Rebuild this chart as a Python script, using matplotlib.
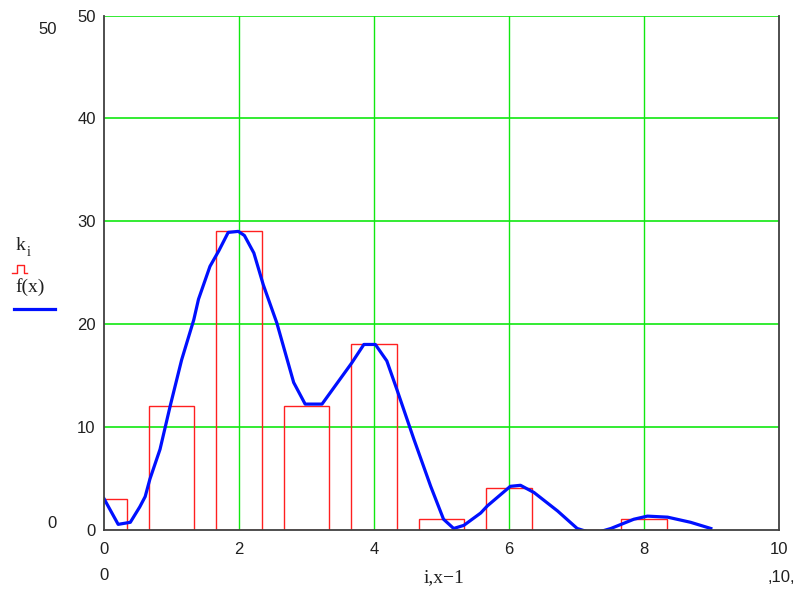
import matplotlib
matplotlib.use("Agg")
import matplotlib.pyplot as plt
from matplotlib.lines import Line2D

# data
i_vals = [0, 1, 2, 3, 4, 5, 6, 7, 8]
k_vals = [3, 12, 29, 12, 18, 1, 4, 0, 1]

curve_x = [0.00, 0.21, 0.39, 0.53, 0.61, 0.68, 0.83, 0.98, 1.15, 1.33, 1.40, 1.57,
           1.70, 1.84, 1.99, 2.08, 2.22, 2.36, 2.56, 2.81, 2.98, 3.23, 3.67, 3.85, 4.02,
           4.19, 4.34, 4.59, 4.84, 5.03, 5.18, 5.33, 5.58, 5.68, 6.02, 6.17, 6.37,
           6.72, 7.01, 7.25, 7.51, 7.85, 8.05, 8.35, 8.69, 8.99]
curve_y = [3.0, 0.5, 0.7, 2.2, 3.2, 4.9, 7.8, 12.0, 16.5, 20.4, 22.4, 25.6,
           27.1, 28.9, 29.0, 28.6, 26.9, 23.8, 20.1, 14.3, 12.2, 12.2, 16.2, 18.0, 18.0,
           16.4, 13.6, 8.8, 4.2, 1.0, 0.1, 0.4, 1.6, 2.3, 4.2, 4.3, 3.6,
           1.8, 0.1, -0.4, 0.1, 1.0, 1.3, 1.2, 0.7, 0.1]

x_ticks = [0, 2, 4, 6, 8, 10]
y_ticks = [0, 10, 20, 30, 40, 50]

W, H = 799, 590
fig = plt.figure(figsize=(W / 100, H / 100), dpi=100)
ax = fig.add_axes([104 / W, (H - 529.5) / H, 675 / W, 514 / H])

green = '#10e810'
ax.set_xlim(0, 10)
ax.set_ylim(0, 50)
for xv in x_ticks[1:-1]:
    ax.axvline(xv, color=green, lw=1.0, zorder=0.5)
for yv in y_ticks[1:]:
    ax.axhline(yv, color=green, lw=1.2, zorder=0.5)

ax.bar(i_vals, k_vals, width=0.68, fill=False, edgecolor='#ff2020', linewidth=1.0, zorder=1)
ax.plot(curve_x, curve_y, color='#0010ff', lw=2.3, zorder=2, solid_joinstyle='round')

for s in ['left', 'bottom', 'right']:
    ax.spines[s].set_color('#404040')
    ax.spines[s].set_linewidth(1.3)
ax.spines['top'].set_visible(False)

tickfont = dict(family='Liberation Sans', size=12, color='#202020')
ax.set_xticks(x_ticks)
ax.set_yticks(y_ticks)
ax.set_xticklabels([str(v) for v in x_ticks], **tickfont)
ax.set_yticklabels([str(v) for v in y_ticks], **tickfont)
ax.tick_params(length=0, pad=6)
ax.tick_params(axis='x', pad=9)

# Mathcad-style range labels
def ftext(x, y, s, **kw):
    fig.text(x / W, 1 - y / H, s, **kw)

ftext(48, 29, '50', ha='center', va='center', **tickfont)
ftext(52, 523, '0', ha='center', va='center', **tickfont)
ftext(104, 576, '0', ha='center', va='center', **tickfont)
ftext(781, 577, ',10,', ha='center', va='center', **tickfont)

serif = dict(family='Liberation Serif', color='#202020')
ftext(444, 578, 'i,x\u22121', ha='center', va='center', size=14, **serif)

# legend
ftext(16, 246, 'k', ha='left', va='center', size=14, **serif)
ftext(27, 253, 'i', ha='left', va='center', size=10, **serif)
ftext(15, 287, 'f(x)', ha='left', va='center', size=14, **serif)

def fx(p):
    return p / W

def fy(p):
    return 1 - p / H

fig.add_artist(Line2D([fx(12), fx(17), fx(17), fx(24), fx(24), fx(27)],
                      [fy(273), fy(273), fy(265), fy(265), fy(273), fy(273)],
                      color='#ff2020', lw=1.0))
fig.add_artist(Line2D([fx(14), fx(55)], [fy(309), fy(309)], color='#0010ff', lw=2.3))

fig.savefig('out.png', dpi=100)
